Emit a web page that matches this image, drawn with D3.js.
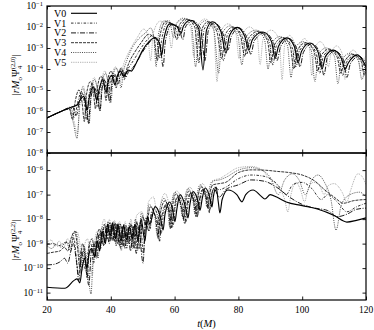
<!DOCTYPE html>
<html>
<head>
<meta charset="utf-8">
<script src="https://cdn.jsdelivr.net/npm/d3@7"></script>
<style>
  body { margin: 0; background: #fff; }
  text { font-family: "Liberation Serif", "DejaVu Serif", serif; fill: #000; }
</style>
</head>
<body>
<svg id="chart" width="374" height="330"></svg>
<script>
// values are [t (M), log10 |amplitude|]

const seriesNames = ["V0", "V1", "V2", "V3", "V4", "V5"];
const tTicks = [20, 40, 60, 80, 100, 120];
const topExp = [-1, -2, -3, -4, -5, -6, -7, -8];
const botExp = [-6, -7, -8, -9, -10, -11];

// (2,0) mode
const top0 = [[20,-6.33],[24,-6.05],[28,-5.8],[29.5,-5.7],[30.5,-5.45],[31.5,-5.3],[32.6,-5.95],[33.2,-5.4],[34.5,-4.85],[35.6,-5.5],[36.3,-5.0],[37.5,-4.5],[38.5,-5.1],[39.2,-4.6],[40.3,-4.3],[41.3,-4.75],[42,-4.35],[43,-4.1],[44,-4.35],[44.8,-4.2],[45.5,-4.05],[46.5,-4.1],[47.2,-3.95],[48.5,-3.55],[50,-3.1],[52,-2.7],[53.8,-2.5],[55.2,-2.75],[56,-3.33],[56.6,-2.6],[58.5,-1.85],[60.6,-1.95],[62,-2.3],[62.8,-1.95],[65,-1.68],[67.6,-2.1],[68.9,-4.05],[70,-2.15],[71.8,-1.75],[74.5,-2.2],[76.1,-3.25],[77.2,-2.4],[79.6,-2.02],[82,-2.45],[83.3,-3.1],[84.4,-2.6],[87.7,-2.24],[90.4,-2.7],[91.5,-3.5],[92.6,-2.9],[95.2,-2.52],[97.6,-2.95],[98.7,-3.7],[99.8,-3.15],[102.4,-2.76],[105,-3.2],[106.2,-4.0],[107.3,-3.4],[109.7,-3.1],[112.3,-3.5],[113.4,-4.0],[114.5,-3.7],[117.2,-3.33],[119,-3.6],[120,-3.9]];
const top1 = [[20,-6.33],[24,-6.05],[27.5,-5.85],[28.6,-6.3],[29.6,-5.6],[30.8,-5.1],[31.8,-5.7],[32.4,-6.4],[33.1,-5.3],[34.3,-4.7],[35.3,-5.3],[35.9,-5.8],[36.6,-4.9],[37.6,-4.4],[38.5,-4.9],[39.2,-5.3],[39.9,-4.5],[40.8,-4.2],[41.7,-4.6],[42.4,-4.3],[43.3,-4.0],[44.2,-4.5],[45,-4.1],[46,-3.85],[47.5,-3.5],[49.5,-3.0],[51.5,-2.6],[53.2,-2.4],[54.5,-2.7],[55.3,-3.5],[55.9,-2.65],[57.8,-1.8],[59.8,-1.9],[61.3,-2.5],[62.1,-1.95],[64.3,-1.65],[67,-2.05],[68.2,-3.4],[69.3,-2.1],[71.1,-1.78],[73.8,-2.2],[75.4,-3.6],[76.5,-2.4],[78.9,-2.05],[81.3,-2.5],[82.6,-3.3],[83.7,-2.6],[87,-2.25],[89.7,-2.7],[90.8,-3.8],[91.9,-2.9],[94.5,-2.55],[96.9,-3.0],[98,-3.9],[99.1,-3.15],[101.7,-2.8],[104.3,-3.2],[105.5,-4.2],[106.6,-3.4],[109,-3.1],[111.6,-3.5],[112.7,-4.3],[113.8,-3.7],[116.5,-3.35],[119,-3.7],[120,-4.1]];
const top2 = [[20,-6.33],[24,-6.05],[28,-5.8],[29.2,-6.2],[30.2,-5.5],[31.3,-5.2],[32.3,-5.8],[33,-6.6],[33.7,-5.4],[34.9,-4.9],[35.9,-5.4],[36.6,-6.0],[37.3,-4.9],[38.1,-4.55],[39,-5.0],[39.7,-5.6],[40.4,-4.5],[41.3,-4.25],[42.3,-4.7],[43,-4.3],[43.8,-4.05],[44.7,-4.4],[45.5,-4.15],[46.5,-4.0],[47.8,-3.75],[49.5,-3.3],[51.5,-2.85],[53.6,-2.55],[55.4,-2.8],[56.4,-3.9],[57.1,-2.7],[59,-1.9],[61.2,-2.0],[62.6,-2.6],[63.4,-2.0],[65.6,-1.7],[68.2,-2.1],[69.5,-3.6],[70.6,-2.15],[72.4,-1.8],[75,-2.25],[76.7,-3.1],[77.8,-2.45],[80.2,-2.05],[82.6,-2.5],[83.9,-3.3],[85,-2.65],[88.3,-2.28],[91,-2.75],[92.1,-3.6],[93.2,-2.95],[95.8,-2.55],[98.2,-3.0],[99.3,-3.9],[100.4,-3.2],[103,-2.8],[105.6,-3.25],[106.8,-4.3],[107.9,-3.45],[110.3,-3.15],[112.9,-3.55],[114,-4.4],[115.1,-3.75],[117.8,-3.4],[120,-3.7]];
const top3 = [[20,-6.33],[24,-6.05],[27,-5.9],[28,-6.4],[28.9,-5.5],[30,-5.0],[31,-5.6],[31.7,-6.5],[32.4,-5.2],[33.6,-4.6],[34.6,-5.2],[35.2,-5.9],[35.9,-4.8],[36.9,-4.35],[37.9,-4.8],[38.5,-5.5],[39.2,-4.4],[40.1,-4.1],[41,-4.5],[41.7,-4.9],[42.4,-4.2],[43.3,-3.95],[44.3,-4.4],[45,-4.0],[46,-3.6],[47.5,-3.2],[49.5,-2.75],[51.8,-2.35],[53.5,-2.5],[54.6,-3.6],[55.3,-2.5],[57.2,-1.75],[59.3,-1.85],[60.7,-2.6],[61.5,-1.9],[63.7,-1.62],[66.3,-2.0],[67.6,-3.7],[68.7,-2.05],[70.5,-1.75],[73.2,-2.2],[74.8,-3.5],[75.9,-2.35],[78.3,-2.0],[80.7,-2.45],[82,-3.4],[83.1,-2.55],[86.4,-2.2],[89.1,-2.65],[90.2,-3.7],[91.3,-2.85],[93.9,-2.5],[96.3,-2.95],[97.4,-4.0],[98.5,-3.1],[101.1,-2.75],[103.7,-3.15],[104.9,-4.1],[106,-3.35],[108.4,-3.05],[111,-3.45],[112.1,-4.2],[113.2,-3.65],[115.9,-3.3],[118.5,-3.65],[119.5,-4.3],[120,-3.9]];
const top4 = [[20,-6.33],[24,-6.05],[27,-5.9],[28.3,-6.6],[29.4,-7.3],[30.3,-5.6],[31.2,-4.9],[32.2,-5.5],[33.2,-6.6],[34,-5.0],[34.9,-4.5],[35.9,-5.1],[36.6,-6.0],[37.4,-4.6],[38.3,-4.2],[39.2,-4.7],[40,-5.6],[40.8,-4.3],[41.6,-3.95],[42.5,-4.3],[43.2,-4.9],[44,-4.1],[45,-3.6],[46.5,-3.05],[48.5,-2.6],[50.7,-2.3],[52.5,-2.05],[53.5,-2.5],[54.2,-3.9],[54.9,-2.4],[56.5,-1.72],[58.3,-1.7],[59.7,-2.5],[60.5,-1.85],[62.7,-1.58],[65.3,-1.95],[66.6,-3.9],[67.7,-2.0],[69.6,-1.7],[72.3,-2.15],[73.8,-4.2],[74.9,-2.3],[77.4,-1.95],[79.8,-2.4],[81.1,-3.8],[82.2,-2.5],[85.5,-2.15],[88.2,-2.6],[89.3,-4.0],[90.4,-2.8],[93,-2.45],[95.4,-2.9],[96.5,-4.4],[97.6,-3.05],[100.2,-2.7],[102.8,-3.1],[104,-4.6],[105.1,-3.3],[107.5,-3.0],[110.1,-3.4],[111.2,-4.7],[112.3,-3.6],[115,-3.25],[117.6,-3.6],[118.7,-4.5],[119.8,-3.8]];
const top5 = [[20,-6.33],[24,-6.05],[27,-5.88],[28.5,-6.5],[29.5,-7.1],[30.4,-5.5],[31.3,-4.8],[32.4,-5.6],[33,-6.3],[33.8,-4.95],[34.8,-4.4],[35.8,-5.0],[36.4,-5.7],[37.2,-4.5],[38.1,-4.1],[39.1,-4.6],[39.8,-5.3],[40.6,-4.2],[41.4,-3.9],[42.4,-4.2],[43,-4.6],[43.8,-3.9],[45,-3.4],[46.5,-2.95],[48.3,-2.5],[50.3,-2.1],[51.5,-2.35],[52.5,-3.6],[53.3,-2.3],[55.5,-1.72],[58,-2.05],[59,-3.0],[59.8,-2.1],[62.5,-1.65],[65,-2.0],[66,-3.4],[66.9,-2.05],[69.5,-1.62],[72.2,-2.05],[73.3,-4.6],[74.3,-2.3],[76.7,-1.85],[79.2,-2.3],[80.2,-3.5],[81.1,-2.45],[83.5,-2.0],[85.9,-2.45],[86.8,-3.8],[87.7,-2.6],[90.2,-2.15],[92.8,-2.6],[93.7,-4.5],[94.5,-2.85],[96,-2.4],[97.6,-2.8],[98.4,-3.8],[99.2,-2.95],[100.7,-2.55],[102.2,-2.95],[103,-4.3],[103.8,-3.1],[105.6,-2.7],[107.4,-3.1],[108.2,-3.9],[109,-3.3],[110.8,-2.9],[112.6,-3.3],[113.4,-4.5],[114.2,-3.5],[116,-3.1],[117.6,-3.5],[118.4,-4.1],[119.2,-3.6],[120,-3.4]];

// (2,2) mode
const bot0 = [[20,-10.78],[25.6,-10.82],[28.5,-10.5],[29.4,-10.44],[30.3,-10.6],[31,-10.0],[31.8,-9.6],[32.5,-10.0],[33.2,-9.4],[34,-9.2],[35,-9.55],[35.8,-8.9],[36.5,-9.3],[37.3,-8.5],[38.3,-9.0],[39,-8.2],[39.8,-8.7],[40.5,-8.15],[41.5,-8.8],[42.2,-8.2],[43.2,-8.9],[44,-8.25],[45,-8.85],[45.8,-8.3],[46.8,-8.8],[47.6,-8.2],[48.5,-8.9],[49.5,-8.0],[50.7,-8.9],[51.5,-7.9],[52.2,-8.2],[53.9,-7.49],[55.5,-7.9],[56.4,-8.44],[57,-7.8],[58.5,-7.3],[59.5,-7.7],[60.1,-8.1],[60.7,-7.6],[61.7,-7.0],[63.4,-7.5],[64.2,-7.95],[64.8,-7.4],[65.8,-6.88],[67.4,-7.3],[68,-7.63],[68.6,-7.2],[69.6,-6.73],[71.1,-7.15],[71.7,-7.5],[72.2,-7.05],[73,-6.69],[73.7,-7.3],[74.2,-7.75],[74.9,-7.2],[76.7,-6.81],[79.5,-7.0],[81.1,-7.29],[82.3,-7.0],[84.6,-6.81],[87,-7.05],[88.3,-7.18],[90,-7.0],[92,-7.1],[95,-7.3],[100,-7.45],[105,-7.6],[110,-7.85],[114,-8.12],[117,-8.05],[120,-7.95]];
const bot1 = [[20,-9.02],[22,-9.0],[23.5,-9.1],[25,-9.0],[26.5,-8.95],[27.5,-9.2],[28.4,-8.75],[29.2,-9.6],[29.9,-10.3],[30.7,-9.3],[31.5,-9.7],[32.3,-10.2],[33,-9.2],[33.8,-9.0],[34.6,-9.8],[35.3,-9.0],[36,-8.6],[36.8,-9.2],[37.5,-8.4],[38.3,-8.9],[39,-8.2],[39.9,-8.9],[40.6,-8.2],[41.5,-9.0],[42.2,-8.25],[43.1,-9.2],[43.9,-8.3],[44.9,-9.0],[45.7,-8.35],[46.6,-9.1],[47.4,-8.25],[48.4,-9.3],[49.3,-8.1],[50.2,-9.4],[51,-7.95],[52.3,-8.4],[53.3,-7.55],[55,-8.0],[55.8,-8.6],[56.4,-7.9],[57.9,-7.35],[59,-7.8],[59.5,-8.3],[60.1,-7.65],[61.1,-7.05],[62.8,-7.55],[63.6,-8.1],[64.2,-7.45],[65.2,-6.92],[66.8,-7.35],[67.4,-7.8],[68,-7.25],[69,-6.77],[70.5,-7.2],[71.1,-7.6],[71.6,-7.1],[72.5,-6.7],[74,-6.8],[76,-6.7],[80,-6.35],[84,-6.2],[88,-6.25],[92,-6.55],[95,-7.0],[97,-6.6],[100,-6.5],[103,-6.75],[106,-7.2],[108,-7.0],[111,-7.3],[114,-7.7],[117,-7.5],[120,-7.35]];
const bot2 = [[20,-9.87],[22,-9.85],[24,-9.75],[25.5,-9.6],[26.5,-9.8],[27.5,-9.3],[28.3,-9.0],[29.2,-9.7],[30,-10.5],[30.8,-9.5],[31.6,-9.3],[32.4,-10.1],[33.1,-10.7],[33.9,-9.3],[34.7,-9.0],[35.5,-9.6],[36.2,-8.7],[37,-8.5],[37.8,-9.1],[38.6,-8.3],[39.5,-9.0],[40.3,-8.25],[41.1,-8.9],[41.8,-8.2],[42.7,-9.1],[43.5,-8.3],[44.4,-9.2],[45.3,-8.35],[46.2,-9.3],[47,-8.3],[48,-9.4],[48.9,-8.25],[49.7,-9.5],[50.1,-9.8],[50.9,-8.1],[52,-8.5],[52.8,-7.7],[54.6,-8.1],[55.3,-8.9],[55.9,-7.95],[57.4,-7.4],[58.6,-7.85],[59.1,-8.35],[59.7,-7.7],[60.8,-7.1],[62.4,-7.6],[63.2,-8.2],[63.8,-7.5],[64.9,-6.95],[66.4,-7.4],[67.1,-7.9],[67.7,-7.3],[68.7,-6.8],[70.2,-7.25],[70.8,-7.75],[71.4,-7.15],[72.3,-6.75],[74,-7.1],[76,-6.8],[80,-6.6],[84,-6.4],[88,-6.45],[92,-6.7],[96,-7.1],[100,-7.4],[104,-7.55],[108,-7.65],[111,-7.9],[114,-7.8],[117,-7.6],[120,-7.55]];
const bot3 = [[20,-9.4],[22,-9.35],[24,-9.3],[25.5,-9.15],[26.5,-9.3],[27.5,-8.8],[28.7,-8.5],[29.6,-9.2],[30.3,-10.0],[31.1,-9.0],[31.9,-9.4],[32.6,-10.4],[33.3,-9.0],[34.2,-8.8],[35,-9.5],[35.7,-8.7],[36.5,-8.4],[37.3,-9.0],[38,-8.2],[38.9,-8.8],[39.7,-8.15],[40.6,-8.85],[41.3,-8.15],[42.2,-9.0],[43,-8.2],[43.9,-9.1],[44.7,-8.25],[45.6,-9.0],[46.4,-8.2],[47.3,-9.2],[48.2,-8.1],[49.1,-9.2],[49.9,-7.9],[51.2,-8.3],[52.3,-7.5],[54,-7.9],[54.9,-8.8],[55.5,-7.8],[57,-7.25],[58.2,-7.7],[58.7,-8.4],[59.3,-7.55],[60.4,-6.98],[62,-7.45],[62.8,-8.0],[63.4,-7.35],[64.5,-6.85],[66,-7.3],[66.7,-7.9],[67.3,-7.15],[68.3,-6.68],[69.8,-7.1],[70.4,-7.55],[71,-7.0],[72,-6.6],[74,-6.55],[76,-6.5],[80,-6.1],[84,-5.99],[88,-6.0],[92,-6.05],[96,-6.1],[100,-6.2],[104,-6.45],[107,-6.8],[110,-7.1],[113,-7.35],[116,-7.25],[120,-7.2]];
const bot4 = [[20,-9.08],[21.5,-9.2],[23,-9.0],[24.5,-9.15],[26,-8.9],[27.3,-9.3],[28.2,-8.65],[29.1,-8.5],[30,-9.3],[30.8,-10.0],[31.6,-9.1],[32.4,-9.6],[33.1,-10.5],[33.8,-11.05],[34.5,-9.4],[35.2,-8.9],[36,-9.6],[36.7,-8.6],[37.5,-8.3],[38.3,-9.0],[39.1,-8.1],[40,-8.8],[40.8,-8.1],[41.7,-9.1],[42.4,-8.15],[43.3,-9.3],[44.1,-8.2],[45,-9.2],[45.9,-8.15],[46.8,-9.2],[47.7,-8.0],[48.6,-8.9],[49.6,-7.75],[51,-8.2],[52,-7.4],[53.7,-7.8],[54.6,-8.7],[55.2,-7.7],[56.7,-7.15],[57.9,-7.6],[58.4,-8.3],[59,-7.45],[60.1,-6.9],[61.7,-7.35],[62.5,-7.9],[63.1,-7.25],[64.2,-6.75],[65.7,-7.2],[66.4,-7.8],[67,-7.05],[68,-6.6],[69.5,-7.0],[70.1,-7.5],[70.7,-6.9],[71.8,-6.45],[74,-6.4],[76,-6.3],[80,-6.0],[84,-5.9],[88,-6.05],[90,-6.3],[92.5,-7.0],[94.5,-6.4],[97,-6.15],[99,-6.4],[101,-7.0],[103,-6.4],[105,-6.2],[107,-6.5],[109,-7.2],[110.6,-8.45],[112.3,-7.4],[115,-7.0],[118,-6.9],[120,-7.1]];
const bot5 = [[20,-8.95],[21.3,-8.85],[22.5,-9.1],[23.8,-8.9],[25.2,-9.15],[26.5,-8.8],[27.6,-9.0],[28.6,-8.55],[29.4,-8.5],[30.3,-9.0],[31.1,-10.1],[31.9,-9.0],[32.7,-8.8],[33.5,-9.6],[34.2,-10.3],[34.9,-9.0],[35.7,-8.5],[36.5,-9.2],[37.2,-8.3],[38,-8.0],[38.8,-8.6],[39.6,-8.0],[40.5,-8.9],[41.2,-8.05],[42,-8.8],[42.8,-8.1],[43.6,-9.0],[44.5,-8.1],[45.4,-8.9],[46.3,-8.0],[47.2,-8.8],[48.1,-7.85],[49.8,-7.7],[51,-8.4],[51.8,-7.3],[53.4,-7.1],[54.4,-7.8],[55,-8.2],[55.6,-7.4],[57,-6.95],[58.2,-7.4],[58.8,-7.9],[59.4,-7.2],[60.6,-6.85],[62.2,-7.2],[62.9,-7.7],[63.5,-7.1],[64.7,-6.7],[66.2,-7.05],[66.9,-7.6],[67.5,-6.95],[68.6,-6.55],[70.1,-6.85],[70.7,-7.3],[71.3,-6.75],[72.5,-6.4],[74,-6.35],[76,-6.2],[80,-5.9],[84,-5.85],[87,-5.95],[89.5,-6.3],[92,-6.6],[94.5,-7.2],[95.5,-7.7],[96.4,-7.05],[98,-6.5],[99.6,-6.85],[100.7,-7.3],[101.8,-6.8],[103.5,-6.5],[105.3,-6.6],[106.9,-7.0],[108,-6.65],[110,-6.55],[112.5,-6.9],[114,-7.3],[115,-6.9],[117.5,-6.15],[119.2,-6.35],[120,-6.6]];

const topSeries = [top0, top1, top2, top3, top4, top5];
const botSeries = [bot0, bot1, bot2, bot3, bot4, bot5];

const styles = [
  { dash: null, width: 1.15, color: "#000" },
  { dash: "2.5,1.5,0.8,1.5", width: 0.8, color: "#000" },
  { dash: "5,1.5,1,1.5", width: 0.9, color: "#000" },
  { dash: "3,1", width: 0.8, color: "#000" },
  { dash: "1,1.2", width: 0.8, color: "#222" },
  { dash: "0.8,1", width: 0.7, color: "#777" }
];

const svg = d3.select("#chart");
const left = 47, right = 366;
const x = d3.scaleLinear().domain([20, 120]).range([left, right]);
const yTop = d3.scaleLog().domain([1e-8, 1e-1]).range([153, 6]);
const yBot = d3.scaleLog().domain([5e-12, 5e-6]).range([300, 153]);

function panel(y, data, exps, id) {
  const [y1, y0] = y.range();
  svg.append("clipPath").attr("id", id)
    .append("rect").attr("x", left).attr("y", y0).attr("width", right - left).attr("height", y1 - y0);

  const line = d3.line()
    .x(d => x(d[0]))
    .y(d => y(Math.pow(10, d[1])))
    .curve(d3.curveMonotoneX);

  const g = svg.append("g").attr("clip-path", `url(#${id})`);
  // draw solid last so it sits on top
  [5, 4, 3, 2, 1, 0].forEach(i => {
    g.append("path")
      .attr("d", line(data[i]))
      .attr("fill", "none")
      .attr("stroke", styles[i].color)
      .attr("stroke-width", styles[i].width)
      .attr("stroke-dasharray", styles[i].dash);
  });

  const vals = exps.map(e => Math.pow(10, e));
  const axes = [
    [d3.axisLeft(y), left, 0],
    [d3.axisRight(y), right, 0]
  ];
  axes.forEach(([ax, tx]) => {
    svg.append("g").attr("transform", `translate(${tx},0)`)
      .call(ax.tickValues(vals).tickSizeInner(-3.5).tickSizeOuter(0).tickFormat(""))
      .call(s => s.select(".domain").remove());
  });
  svg.append("g").attr("transform", `translate(0,${y1})`)
    .call(d3.axisBottom(x).tickValues(tTicks).tickSizeInner(-3.5).tickSizeOuter(0).tickFormat(""))
    .call(s => s.select(".domain").remove());
  svg.append("g").attr("transform", `translate(0,${y0})`)
    .call(d3.axisTop(x).tickValues(tTicks).tickSizeInner(-3.5).tickSizeOuter(0).tickFormat(""))
    .call(s => s.select(".domain").remove());
  svg.selectAll(".tick line").attr("stroke", "#000").attr("stroke-width", 0.9);

  // tick labels 10^n
  exps.forEach(e => {
    const t = svg.append("text")
      .attr("x", left - 4).attr("y", y(Math.pow(10, e)))
      .attr("dy", "0.33em")
      .attr("text-anchor", "end")
      .style("font-size", "9.5px");
    t.append("tspan").text("10");
    t.append("tspan").text("\u2212" + Math.abs(e))
      .attr("dy", "-0.45em").style("font-size", "6.5px");
  });

  svg.append("rect")
    .attr("x", left).attr("y", y0).attr("width", right - left).attr("height", y1 - y0)
    .attr("fill", "none").attr("stroke", "#000").attr("stroke-width", 1.2);
}

panel(yTop, topSeries, topExp, "clipTop");
panel(yBot, botSeries, botExp, "clipBot");

// x tick labels
tTicks.forEach(t => {
  svg.append("text").attr("x", x(t)).attr("y", 313)
    .attr("text-anchor", "middle").style("font-size", "9.5px").text(t);
});

// x label
const xl = svg.append("text").attr("x", x(70)).attr("y", 327)
  .attr("text-anchor", "middle").style("font-size", "10.5px");
xl.append("tspan").style("font-style", "italic").text("t");
xl.append("tspan").text("(");
xl.append("tspan").style("font-style", "italic").text("M");
xl.append("tspan").text(")");

// y labels
function yLabel(cx, cy, mode) {
  const t = svg.append("text")
    .attr("transform", `translate(${cx},${cy}) rotate(-90)`)
    .attr("text-anchor", "middle").style("font-size", "10.5px");
  t.append("tspan").text("|");
  t.append("tspan").style("font-style", "italic").text("rM");
  t.append("tspan").style("font-size", "7px").attr("dy", 2.5).text("o");
  t.append("tspan").attr("dy", -2.5).text("\u03A8");
  t.append("tspan").style("font-size", "7px").attr("dy", 3).text("4");
  t.append("tspan").style("font-size", "6.5px").attr("dx", -3.5).attr("dy", -7.5).text(mode);
  t.append("tspan").attr("dy", 4.5).text("|");
}
yLabel(19, 75, "(2,0)");
yLabel(19, 240, "(2,2)");

// legend
const leg = svg.append("g");
seriesNames.forEach((name, i) => {
  const ly = 13.3 + i * 9.8;
  leg.append("text").attr("x", 54).attr("y", ly).attr("dy", "0.35em")
    .style("font-size", "10px").text(name);
  leg.append("line").attr("x1", 71).attr("x2", 97).attr("y1", ly).attr("y2", ly)
    .attr("stroke", styles[i].color)
    .attr("stroke-width", styles[i].width)
    .attr("stroke-dasharray", styles[i].dash);
});
</script>
</body>
</html>
